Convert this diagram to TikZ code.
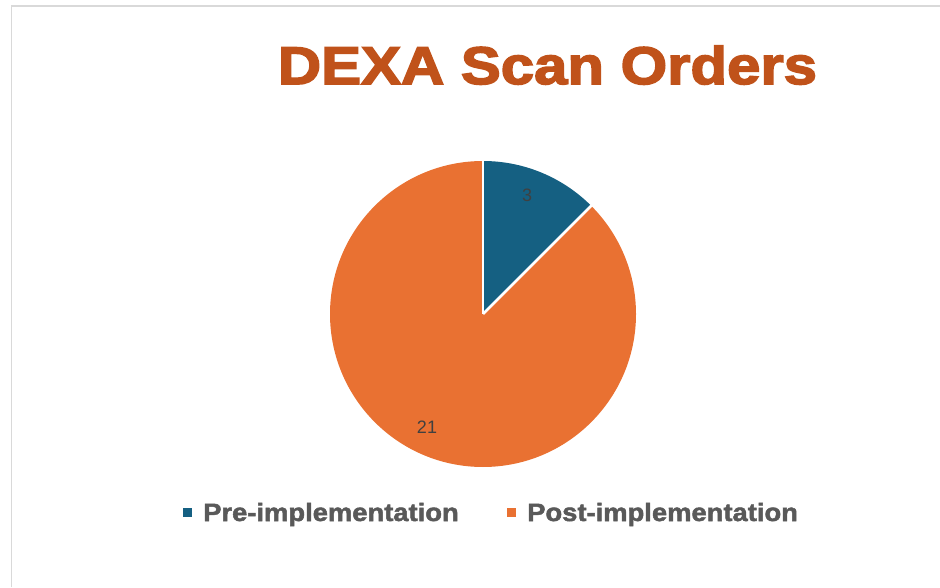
\documentclass[tikz,border=0pt]{standalone}
\usepackage{fontspec}
\setmainfont{Liberation Sans}
\newfontfamily\titlefont[FakeBold=3,FakeStretch=1.13]{Liberation Sans Bold}
\newfontfamily\legendfont[FakeBold=2,FakeStretch=1.095]{Liberation Sans Bold}
\definecolor{preblue}{HTML}{156082}
\definecolor{postorange}{HTML}{E97132}
\definecolor{titleorange}{HTML}{C0521A}
\definecolor{legendgray}{HTML}{595959}
\definecolor{labelgray}{HTML}{404040}
\definecolor{framegray}{HTML}{D9D9D9}
\tikzset{
  datalabel/.style={text=labelgray, font=\fontsize{18}{18}\selectfont, inner sep=0pt},
  legendtext/.style={text=legendgray, font=\legendfont\fontsize{25}{25}\selectfont, inner sep=0pt, anchor=base west},
  legendkey/.style={minimum size=9pt, inner sep=0pt, draw=none},
}
\begin{document}
\begin{tikzpicture}[x=1pt,y=1pt]
  \useasboundingbox (0,0) rectangle (940,587);
  % chart frame (top and left edges)
  \draw[framegray, line width=1.5pt] (11.5,0) -- (11.5,581) -- (940,581);
  % title
  \node[text=titleorange, font=\titlefont\fontsize{53}{53}\selectfont, inner sep=0pt, anchor=base] (title) at (547.5,503) {DEXA Scan Orders};
  % pie
  \coordinate (c) at (483,273);
  \fill[postorange] (c) -- ++(90:153) arc[start angle=90, end angle=405, radius=153] -- cycle;
  \fill[preblue] (c) -- ++(45:153) arc[start angle=45, end angle=90, radius=153] -- cycle;
  \draw[white, line width=2.5pt] (c) -- ++(90:154);
  \draw[white, line width=2.5pt] (c) -- ++(45:154);
  % data labels
  \node[datalabel] (lpre) at (527,392) {3};
  \node[datalabel] (lpost) at (427,160) {21};
  % legend
  \node[legendkey, fill=preblue] (kpre) at (187.5,74.5) {};
  \node[legendtext] (tpre) at (203,66) {Pre-implementation};
  \node[legendkey, fill=postorange] (kpost) at (511.5,74.5) {};
  \node[legendtext] (tpost) at (527,66) {Post-implementation};
\end{tikzpicture}
\end{document}
